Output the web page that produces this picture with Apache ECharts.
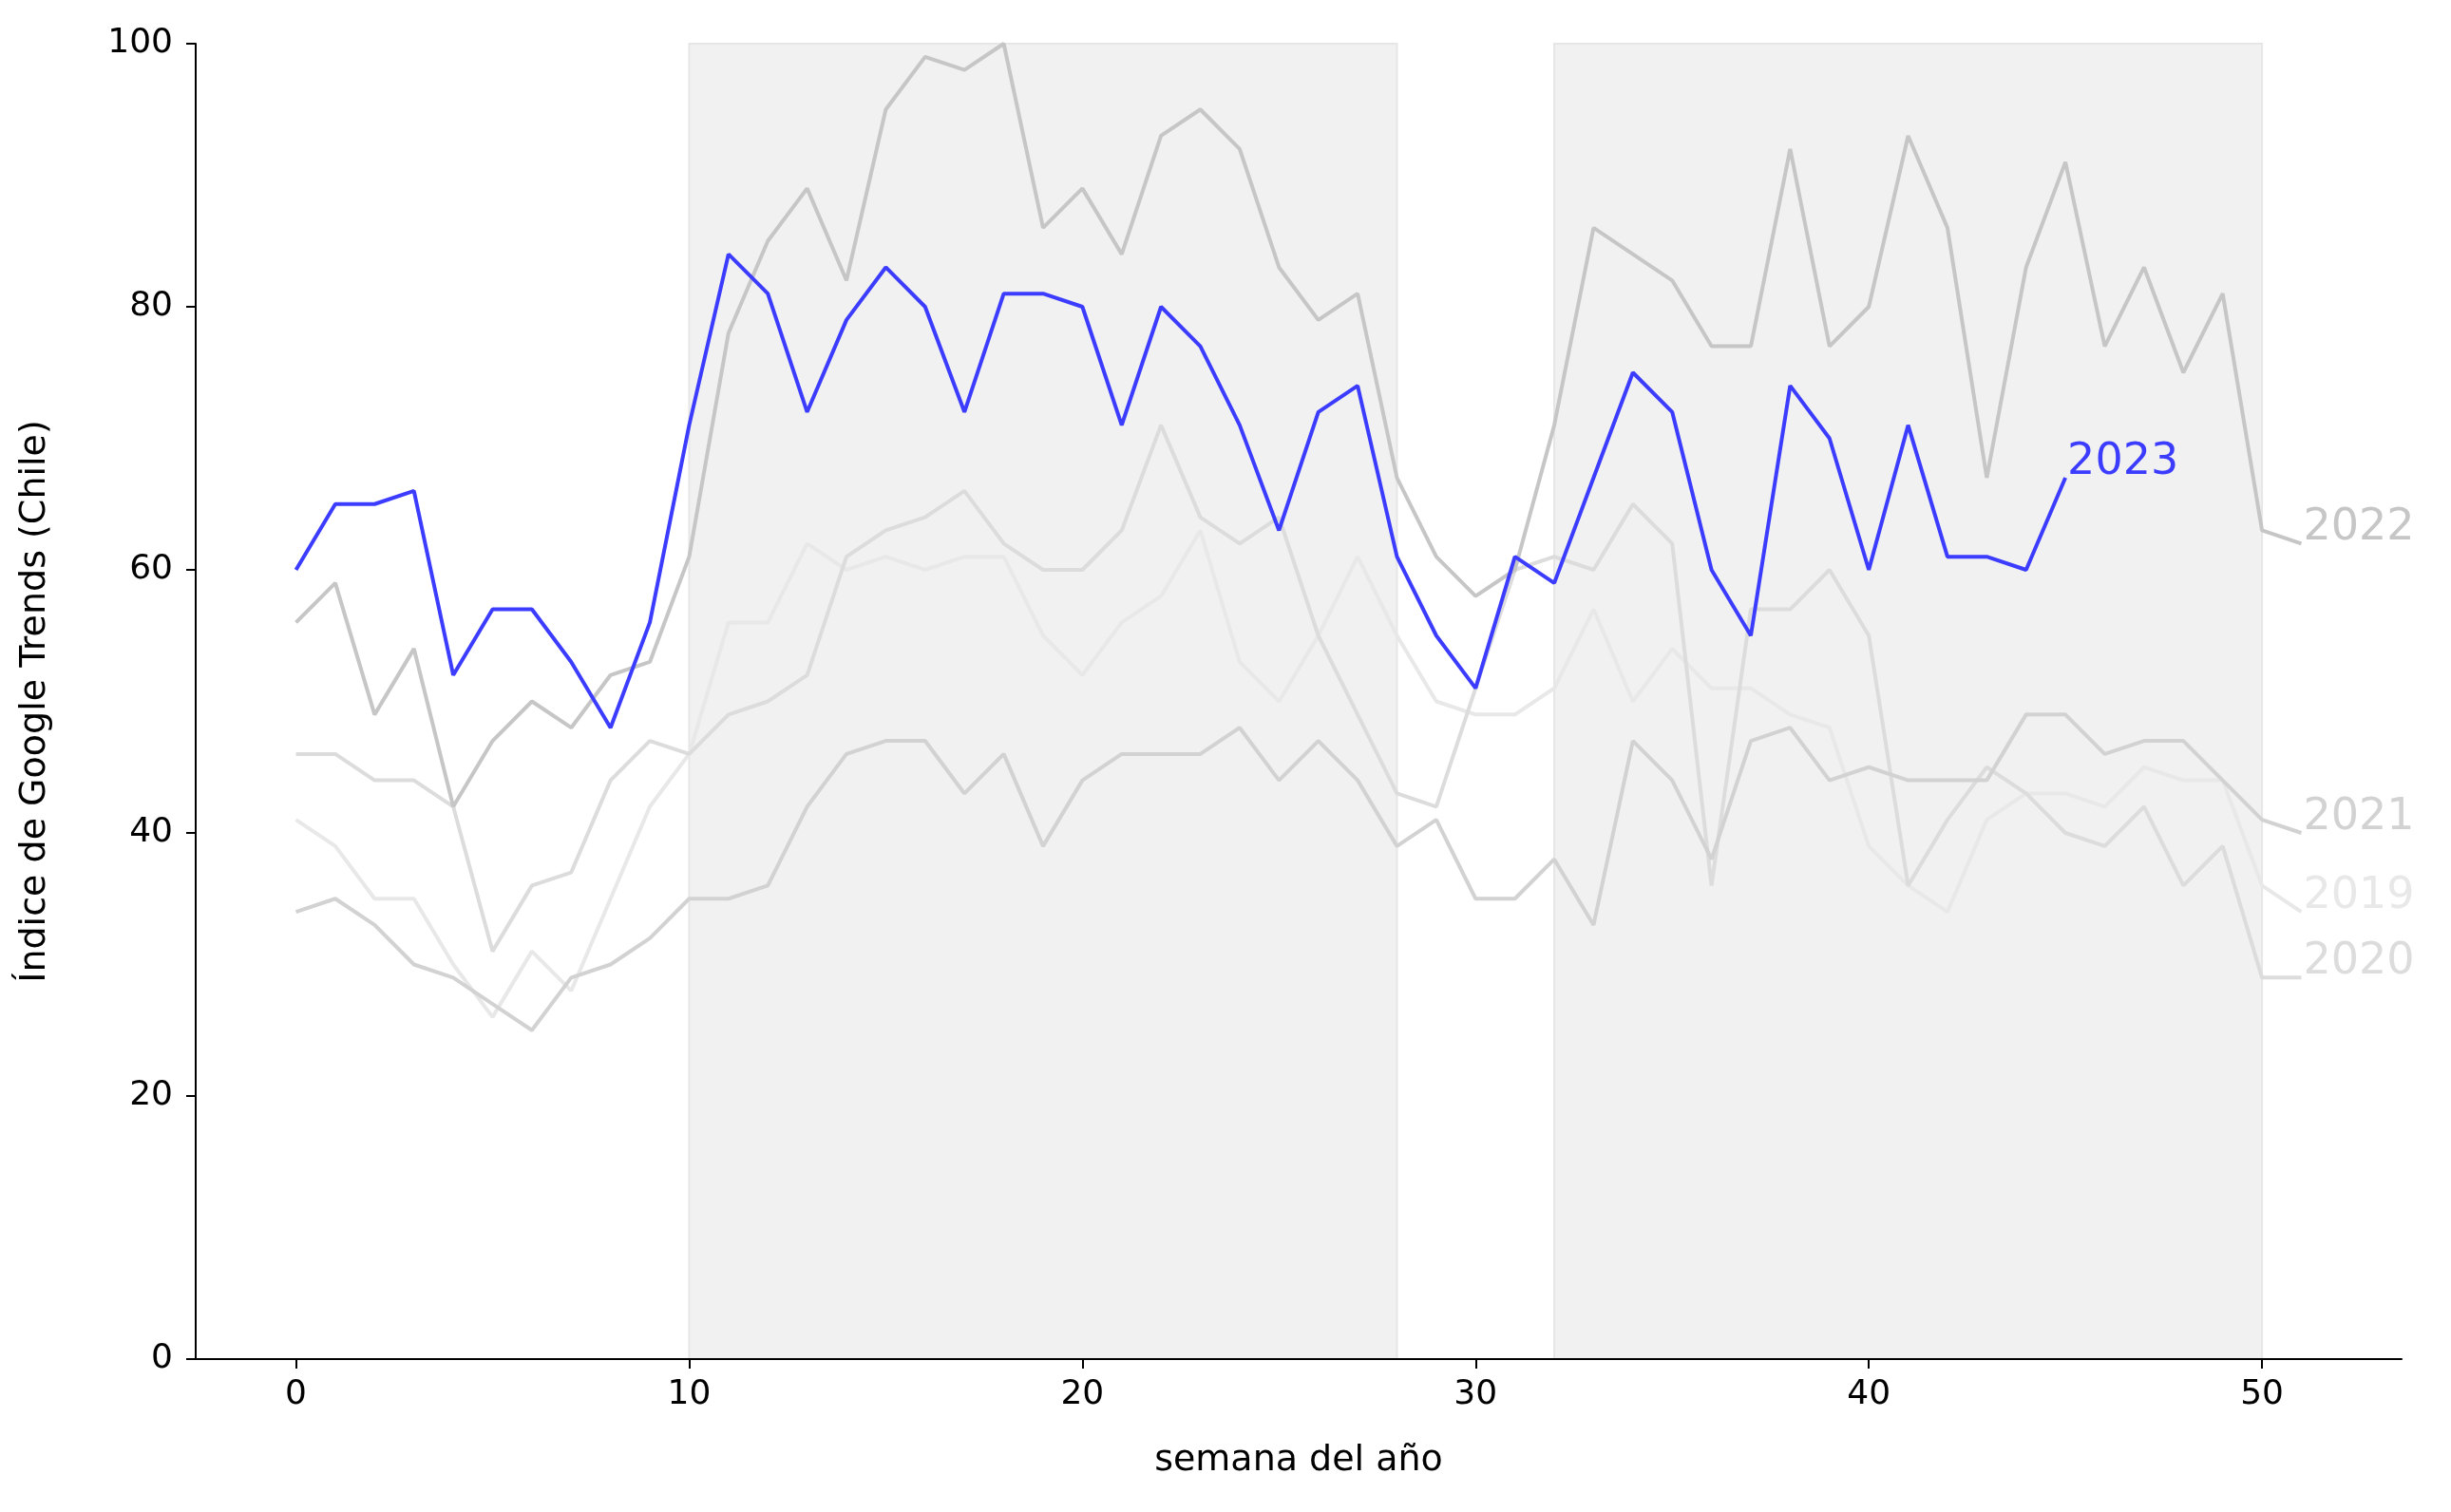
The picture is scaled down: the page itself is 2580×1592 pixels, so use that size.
<!DOCTYPE html>
<html>
<head>
<meta charset="utf-8">
<script src="https://cdn.jsdelivr.net/npm/echarts@6/dist/echarts.min.js"></script>
<style>html,body{margin:0;padding:0;background:#fff}#main{width:2580px;height:1592px}</style>
</head>
<body>
<div id="main"></div>
<script>
// valores semanales (semana 0..51)
var y2019 = [41,39,35,35,30,26,31,28,35,42,46,56,56,62,60,61,60,61,61,55,52,56,58,63,53,50,55,61,55,50,49,49,51,57,50,54,51,51,49,48,39,36,34,41,43,43,42,45,44,44,36,34];
var y2020 = [46,46,44,44,42,31,36,37,44,47,46,49,50,52,61,63,64,66,62,60,60,63,71,64,62,64,55,49,43,42,51,60,61,60,65,62,36,57,57,60,55,36,41,45,43,40,39,42,36,39,29,29];
var y2021 = [34,35,33,30,29,27,25,29,30,32,35,35,36,42,46,47,47,43,46,39,44,46,46,46,48,44,47,44,39,41,35,35,38,33,47,44,38,47,48,44,45,44,44,44,49,49,46,47,47,44,41,40];
var y2022 = [56,59,49,54,42,47,50,48,52,53,61,78,85,89,82,95,99,98,100,86,89,84,93,95,92,83,79,81,67,61,58,60,71,86,84,82,77,77,92,77,80,93,86,67,83,91,77,83,75,81,63,62];
var y2023 = [60,65,65,66,52,57,57,53,48,56,71,84,81,72,79,83,80,72,81,81,80,71,80,77,71,63,72,74,61,55,51,61,59,67,75,72,60,55,74,70,60,71,61,61,60,67];
var years = ['2019','2020','2021','2022','2023'];
var colores = ['#e8e8e8','#dcdcdc','#d2d2d2','#c6c6c6','#3c3cff'];
var vacaciones = [[10,28],[32,50]];
var xTicks = [0,10,20,30,40,50];

var myChart = echarts.init(document.getElementById('main'));
var todas = [y2019,y2020,y2021,y2022,y2023];
var series = [];
for (let i = 0; i < todas.length; i++) {
    series.push({
        name: years[i],
        type: 'line',
        showSymbol: false,
        silent: true,
        z: i + 2,
        data: todas[i].map(function (v, k) { return [k, v]; }),
        lineStyle: {color: colores[i], width: 4},
        endLabel: {
            show: true, formatter: years[i], color: colores[i],
            fontSize: 46, fontFamily: 'DejaVu Sans', distance: 0, offset: [2, -16]
        }
    });
}
series[0].markArea = {
    silent: true,
    itemStyle: {color: 'rgba(235,235,235,0.7)', borderColor: '#e6e6e6', borderWidth: 2},
    data: vacaciones.map(function (r) { return [{xAxis: r[0]}, {xAxis: r[1]}]; })
};
var ax = {color: '#000', fontSize: 36, fontFamily: 'DejaVu Sans'};
var option = {
    animation: false,
    backgroundColor: '#fff',
    grid: {left: 206, right: 52, top: 46, bottom: 161},
    xAxis: {
        type: 'value', min: -2.55, max: 53.55, z: 20,
        name: 'semana del año', nameLocation: 'middle', nameGap: 88,
        nameTextStyle: {color: '#000', fontSize: 38, fontFamily: 'DejaVu Sans'},
        axisLine: {onZero: false, lineStyle: {color: '#000', width: 2}},
        axisTick: {show: true, length: 10, lineStyle: {color: '#000', width: 2}, customValues: xTicks},
        axisLabel: Object.assign({customValues: xTicks, margin: 20}, ax),
        splitLine: {show: false}
    },
    yAxis: {
        type: 'value', min: 0, max: 100, interval: 20, z: 20,
        name: 'Índice de Google Trends (Chile)', nameLocation: 'middle', nameGap: 150,
        nameTextStyle: {color: '#000', fontSize: 38, fontFamily: 'DejaVu Sans'},
        axisLine: {show: true, onZero: false, lineStyle: {color: '#000', width: 2}},
        axisTick: {show: true, length: 10, lineStyle: {color: '#000', width: 2}},
        axisLabel: Object.assign({margin: 24}, ax),
        splitLine: {show: false}
    },
    series: series
};
myChart.setOption(option);
</script>
</body>
</html>
